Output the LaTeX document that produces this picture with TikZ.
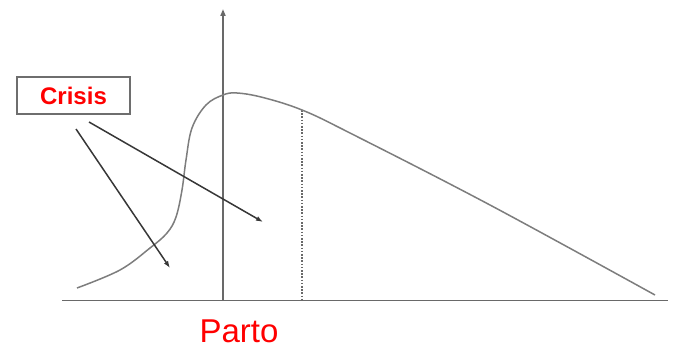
\documentclass[tikz,border=0pt]{standalone}
\usepackage{fontspec}
\setmainfont{Liberation Sans}
\usetikzlibrary{arrows.meta}
\definecolor{curvegray}{RGB}{125,125,125}
\definecolor{axisgray}{RGB}{105,105,105}
\definecolor{arrowgray}{RGB}{55,55,55}
\definecolor{boxgray}{RGB}{110,110,110}
\tikzset{
  curveline/.style={draw=curvegray, line width=1.5pt},
  axisline/.style={draw=axisgray, line width=1.7pt},
  pointer/.style={draw=arrowgray, line width=1.5pt, -{Latex[length=7pt,width=5pt]}},
  labelbox/.style={draw=boxgray, line width=1.4pt, fill=white, minimum width=113pt, minimum height=37pt, inner sep=0pt, text=red, font=\fontsize{24}{26}\selectfont\bfseries},
  redlabel/.style={text=red, font=\fontsize{33}{36}\selectfont, inner sep=0pt}
}
\begin{document}
\begin{tikzpicture}[x=1pt,y=-1pt]
\useasboundingbox (0,0) rectangle (674,350);
% baseline
\coordinate (bl) at (62,300.5);
\coordinate (br) at (668,300.5);
\draw[axisline] (bl) -- (br);
% vertical axis
\coordinate (ax0) at (223,300);
\coordinate (ax1) at (223,9);
\draw[axisline, -{Triangle[length=7pt,width=5pt]}] (ax0) -- (ax1);
% dotted vertical
\coordinate (d0) at (302,110);
\coordinate (d1) at (302,300);
\draw[draw=axisgray, line width=1.3pt, dash pattern=on 1.6pt off 1.6pt] (d0) -- (d1);
% curve
\draw[curveline] plot[smooth, tension=0.6] coordinates {(77,288) (120,270) (150,248) (167,233) (176,217) (182,190) (186,160) (192,128) (206,105) (223,95) (237,93) (263,97.5) (302,110) (350,133) (490,205) (655,295)};
% crisis label
\node[labelbox] (crisis) at (73.5,95.5) {Crisis};
\coordinate (s1) at (76,129);
\coordinate (e1) at (170,268);
\coordinate (s2) at (89,122);
\coordinate (e2) at (263,222);
\draw[pointer] (s1) -- (e1);
\draw[pointer] (s2) -- (e2);
% parto
\node[redlabel] (parto) at (239,331) {Parto};
\end{tikzpicture}
\end{document}
